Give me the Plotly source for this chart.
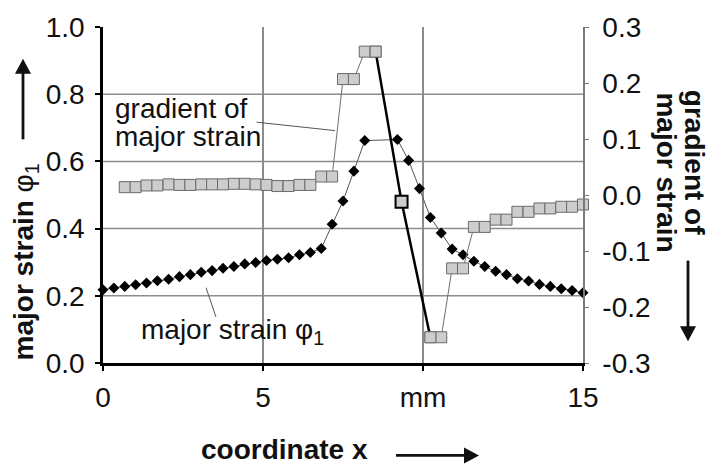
import plotly.graph_objects as go

# Coordinate x in mm at which the major strain was evaluated (gap at the crack)
strain_x = [0.00, 0.34, 0.68, 1.02, 1.36, 1.70, 2.05, 2.39, 2.73, 3.07, 3.41, 3.75, 4.09,
            4.43, 4.77, 5.11, 5.45, 5.80, 6.14, 6.48, 6.82, 7.16, 7.50, 7.84, 8.18,
            9.20, 9.55, 9.89, 10.23, 10.57, 10.91, 11.25, 11.59, 11.93, 12.27, 12.61,
            12.95, 13.30, 13.64, 13.98, 14.32, 14.66, 15.00]
strain_phi1 = [0.218, 0.223, 0.228, 0.233, 0.238, 0.245, 0.249, 0.257, 0.263, 0.270, 0.275,
               0.282, 0.287, 0.295, 0.299, 0.305, 0.309, 0.313, 0.322, 0.329, 0.341, 0.413,
               0.482, 0.571, 0.662,
               0.665, 0.603, 0.519, 0.433, 0.387, 0.339, 0.322, 0.303, 0.287, 0.273, 0.263,
               0.251, 0.244, 0.234, 0.228, 0.221, 0.216, 0.209]

# Gradient of major strain, left of the crack
grad_left_x = [0.68, 1.02, 1.36, 1.70, 2.05, 2.39, 2.73, 3.07, 3.41, 3.75, 4.09, 4.43,
               4.77, 5.11, 5.45, 5.80, 6.14, 6.48, 6.82, 7.16, 7.50, 7.84, 8.18, 8.52]
grad_left = [0.014, 0.014, 0.017, 0.017, 0.019, 0.018, 0.018, 0.019, 0.019, 0.019, 0.020,
             0.020, 0.019, 0.018, 0.016, 0.016, 0.018, 0.018, 0.033, 0.033, 0.207, 0.207,
             0.256, 0.256]
# Gradient across the crack
grad_crack_x = [9.33]
grad_crack = [-0.012]
# Gradient of major strain, right of the crack
grad_right_x = [10.23, 10.57, 10.91, 11.25, 11.59, 11.93, 12.27, 12.61, 12.95, 13.30,
                13.64, 13.98, 14.32, 14.66, 15.00]
grad_right = [-0.254, -0.254, -0.131, -0.131, -0.057, -0.057, -0.044, -0.044, -0.030,
              -0.030, -0.024, -0.024, -0.021, -0.021, -0.017]

x_ticks = [0, 5, 10, 15]
x_ticktext = ["0", "5", "mm", "15"]
y1_ticks = [0.0, 0.2, 0.4, 0.6, 0.8, 1.0]
y1_ticktext = ["0.0", "0.2", "0.4", "0.6", "0.8", "1.0"]
y2_ticks = [-0.3, -0.2, -0.1, 0.0, 0.1, 0.2, 0.3]
y2_ticktext = ["-0.3", "-0.2", "-0.1", "0.0", "0.1", "0.2", "0.3"]
grid_y = [0.2, 0.4, 0.6, 0.8]

FONT = "Liberation Sans, Arial, sans-serif"
INK = "#111111"
GRID = "#8c8c8c"
SQ_FILL = "#cdcdcd"
SQ_EDGE = "#6a6a6a"

# plot area in pixels: left, right, top, bottom
PL, PR, PT, PB = 103, 583, 25, 363


def px(xp):
    return (xp - PL) / (PR - PL)


def py(yp):
    return (PB - yp) / (PB - PT)


fig = go.Figure()

# major strain phi1 (left axis)
fig.add_trace(go.Scatter(
    x=strain_x, y=strain_phi1, mode="lines+markers", yaxis="y",
    line=dict(color="#555555", width=1),
    marker=dict(symbol="diamond", size=8.5, color="black"),
    cliponaxis=False, hoverinfo="skip"))

# gradient of major strain (right axis), thin connecting lines
for gx, gy in ((grad_left_x, grad_left), (grad_right_x, grad_right)):
    fig.add_trace(go.Scatter(
        x=gx, y=gy, mode="lines+markers", yaxis="y2",
        line=dict(color="#6e6e6e", width=1),
        marker=dict(symbol="square", size=11, color=SQ_FILL,
                    line=dict(color=SQ_EDGE, width=1)),
        cliponaxis=False, hoverinfo="skip"))

# bold segment bridging the crack
fig.add_trace(go.Scatter(
    x=[grad_left_x[-1]] + grad_crack_x + [grad_right_x[0]],
    y=[grad_left[-1]] + grad_crack + [grad_right[0]],
    mode="lines", yaxis="y2",
    line=dict(color="black", width=2.5),
    cliponaxis=False, hoverinfo="skip"))
fig.add_trace(go.Scatter(
    x=grad_crack_x, y=grad_crack, mode="markers", yaxis="y2",
    marker=dict(symbol="square", size=12, color=SQ_FILL,
                line=dict(color="black", width=2)),
    cliponaxis=False, hoverinfo="skip"))

# re-draw the end squares of the bridge above the bold line
fig.add_trace(go.Scatter(
    x=[grad_left_x[-1], grad_right_x[0]], y=[grad_left[-1], grad_right[0]],
    mode="markers", yaxis="y2",
    marker=dict(symbol="square", size=11, color=SQ_FILL,
                line=dict(color=SQ_EDGE, width=1)),
    cliponaxis=False, hoverinfo="skip"))

shapes = []
for gy in grid_y:
    shapes.append(dict(type="line", xref="paper", yref="y", x0=0, x1=1, y0=gy, y1=gy,
                       line=dict(color=GRID, width=1.5), layer="below"))
# leader lines for the in-plot labels
shapes.append(dict(type="line", xref="x", yref="y2", x0=4.80, y0=0.130, x1=7.25, y1=0.115,
                   line=dict(color="#555555", width=1)))
shapes.append(dict(type="line", xref="x", yref="y", x0=3.22, y0=0.224, x1=3.53, y1=0.137,
                   line=dict(color="#555555", width=1)))


def arrow(x0, y0, x1, y1, head=15, half=8):
    """Direction arrow in pixel coordinates, drawn as a shaft plus a filled head."""
    dx, dy = x1 - x0, y1 - y0
    n = (dx * dx + dy * dy) ** 0.5
    ux, uy = dx / n, dy / n
    bx, by = x1 - ux * head, y1 - uy * head
    shaft = dict(type="line", xref="paper", yref="paper",
                 x0=px(x0), y0=py(y0), x1=px(bx + ux), y1=py(by + uy),
                 line=dict(color=INK, width=2.8))
    pts = [(x1, y1), (bx - uy * half, by + ux * half), (bx + uy * half, by - ux * half)]
    path = "M " + " L ".join(f"{px(a):.5f},{py(b):.5f}" for a, b in pts) + " Z"
    tip = dict(type="path", xref="paper", yref="paper", path=path,
               fillcolor=INK, line=dict(width=0))
    return [shaft, tip]


shapes += arrow(23, 138, 23, 57)      # up, beside left axis title
shapes += arrow(688, 260, 688, 341)   # down, beside right axis title
shapes += arrow(396, 456, 479, 456)   # right, beside x axis title

annotations = [
    dict(text="gradient of", xref="paper", yref="paper", x=0.020, y=0.757,
         xanchor="left", yanchor="middle", showarrow=False,
         font=dict(family=FONT, size=28, color=INK)),
    dict(text="major strain", xref="paper", yref="paper", x=0.020, y=0.675,
         xanchor="left", yanchor="middle", showarrow=False,
         font=dict(family=FONT, size=28, color=INK)),
    dict(text="major strain φ<sub>1</sub>", xref="paper", yref="paper", x=0.075, y=0.095,
         xanchor="left", yanchor="middle", showarrow=False,
         font=dict(family=FONT, size=28, color=INK)),
    # axis titles
    dict(text="<b>major strain</b> φ<sub>1</sub>", xref="paper", yref="paper",
         x=-0.162, y=0.300, xanchor="center", yanchor="middle", textangle=-90,
         showarrow=False, font=dict(family=FONT, size=28, color=INK)),
    dict(text="<b>gradient of</b>", xref="paper", yref="paper",
         x=1.231, y=0.596, xanchor="center", yanchor="middle", textangle=90,
         showarrow=False, font=dict(family=FONT, size=28, color=INK)),
    dict(text="<b>major strain</b>", xref="paper", yref="paper",
         x=1.173, y=0.567, xanchor="center", yanchor="middle", textangle=90,
         showarrow=False, font=dict(family=FONT, size=28, color=INK)),
    dict(text="<b>coordinate x</b>", xref="paper", yref="paper",
         x=0.379, y=py(450.5), xanchor="center", yanchor="middle",
         showarrow=False, font=dict(family=FONT, size=28, color=INK)),
]

fig.update_layout(
    width=710, height=467,
    margin=dict(l=PL, r=710 - PR, t=PT, b=467 - PB, pad=0),
    paper_bgcolor="white", plot_bgcolor="white",
    showlegend=False,
    font=dict(family=FONT, size=28, color=INK),
    xaxis=dict(range=[0, 15], tickvals=x_ticks, ticktext=x_ticktext,
               showgrid=True, gridcolor=GRID, gridwidth=1.5, zeroline=False,
               showline=True, linecolor="black", linewidth=3,
               ticks="outside", ticklen=5, tickwidth=1.5, tickcolor="black",
               ticklabelstandoff=2, tickfont=dict(size=28, color=INK)),
    yaxis=dict(range=[0, 1.0], tickvals=y1_ticks, ticktext=y1_ticktext,
               showgrid=False, zeroline=False,
               showline=True, linecolor="black", linewidth=2.5,
               ticks="outside", ticklen=5, tickwidth=1.5, tickcolor="black",
               ticklabelstandoff=5, tickfont=dict(size=28, color=INK)),
    yaxis2=dict(range=[-0.3, 0.3], tickvals=y2_ticks, ticktext=y2_ticktext,
                overlaying="y", side="right", anchor="x",
                showgrid=False, zeroline=False,
                showline=True, linecolor="#7a7a7a", linewidth=1.5,
                ticks="outside", ticklen=4, tickwidth=1, tickcolor="#7a7a7a",
                ticklabelstandoff=8, tickfont=dict(size=28, color=INK)),
    shapes=shapes,
    annotations=annotations,
)

fig.write_html("out.html")
